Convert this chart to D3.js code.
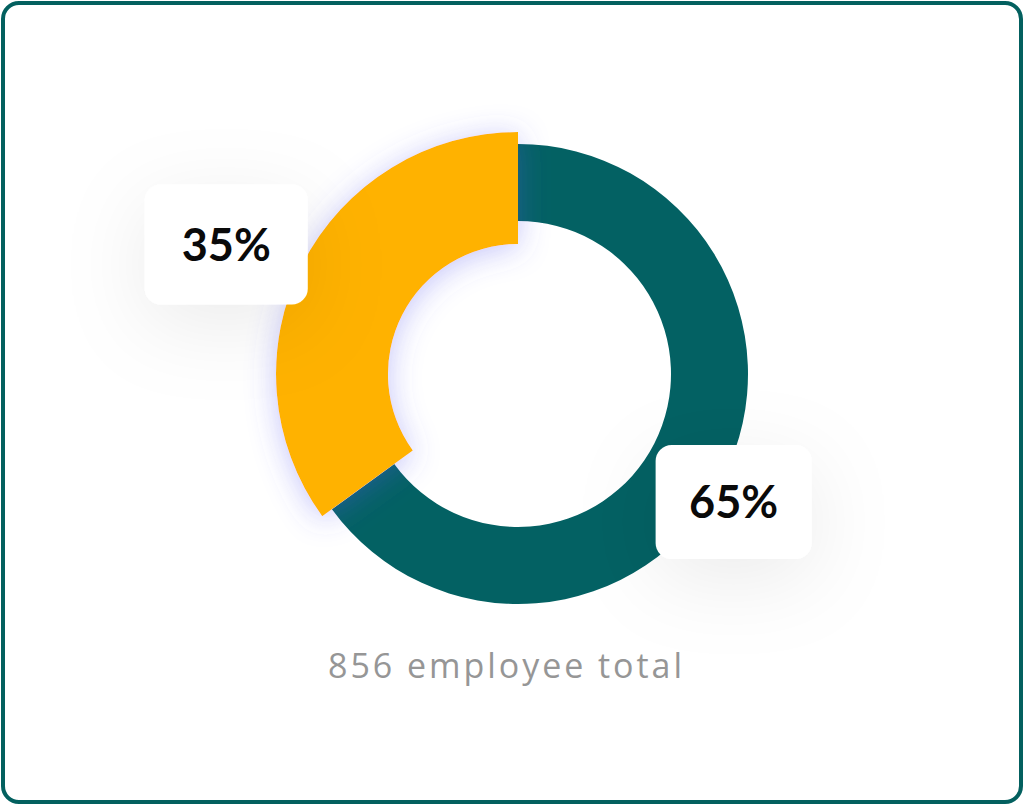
<!DOCTYPE html>
<html>
<head>
<meta charset="utf-8">
<script src="https://cdn.jsdelivr.net/npm/d3@7"></script>
<style>
  html, body { margin: 0; padding: 0; background: #ffffff; }
  svg { display: block; }
</style>
</head>
<body>
<svg id="chart" width="1024" height="805"></svg>
<script>
// ---- data ----
const categories = ["Group A", "Group B"];
const values = [65, 35];
const labels = ["65%", "35%"];
const totalLabel = "856 employee total";

// ---- style ----
const colors = ["#036163", "#FFB200"];
const innerRadii = [153, 130];
const outerRadii = [230, 242];
const labelOffsets = [[45, 41], [-126, -45]];
const boxSizes = [[156, 114], [163, 120]];

const W = 1024, H = 805;
const cx = 518, cy = 374;

const svg = d3.select("#chart");
const defs = svg.append("defs");

const f1 = defs.append("filter").attr("id", "glow")
  .attr("x", "-50%").attr("y", "-50%").attr("width", "200%").attr("height", "200%");
f1.append("feDropShadow").attr("dx", 0).attr("dy", 4).attr("stdDeviation", 15)
  .attr("flood-color", "#5b5bf0").attr("flood-opacity", 0.35);

const f2 = defs.append("filter").attr("id", "boxShadow")
  .attr("x", "-100%").attr("y", "-100%").attr("width", "300%").attr("height", "300%");
f2.append("feDropShadow").attr("dx", 0).attr("dy", 20).attr("stdDeviation", 42)
  .attr("flood-color", "#000").attr("flood-opacity", 0.08);

// border
svg.append("rect")
  .attr("x", 3).attr("y", 3).attr("width", W - 6).attr("height", H - 6)
  .attr("rx", 16).attr("ry", 16)
  .attr("fill", "#ffffff").attr("stroke", "#03605f").attr("stroke-width", 4);

const pie = d3.pie().sort(null).value(d => d)(values);
const g = svg.append("g").attr("transform", `translate(${cx},${cy})`);

const arcFor = i => d3.arc().innerRadius(innerRadii[i]).outerRadius(outerRadii[i]);

g.selectAll("path.slice")
  .data(pie)
  .join("path")
  .attr("class", "slice")
  .attr("d", (d, i) => arcFor(i)(d))
  .attr("fill", (d, i) => colors[i])
  .attr("filter", (d, i) => i === 1 ? "url(#glow)" : null);

const lab = g.selectAll("g.lab")
  .data(pie)
  .join("g")
  .attr("class", "lab")
  .attr("transform", (d, i) => {
    const c = arcFor(i).centroid(d);
    return `translate(${c[0] + labelOffsets[i][0]},${c[1] + labelOffsets[i][1]})`;
  });

lab.append("rect")
  .attr("x", (d, i) => -boxSizes[i][0] / 2)
  .attr("y", (d, i) => -boxSizes[i][1] / 2)
  .attr("width", (d, i) => boxSizes[i][0])
  .attr("height", (d, i) => boxSizes[i][1])
  .attr("rx", 16).attr("ry", 16)
  .attr("fill", "#ffffff")
  .attr("filter", "url(#boxShadow)");

lab.append("text")
  .attr("text-anchor", "middle")
  .attr("dy", "0.36em")
  .attr("font-family", "Lato, 'Open Sans', sans-serif")
  .attr("font-weight", 700)
  .attr("font-size", 45)
  .attr("fill", "#0a0a0a")
  .text((d, i) => labels[i]);

svg.append("text")
  .attr("x", 505).attr("y", 678)
  .attr("text-anchor", "middle")
  .attr("font-family", "'Open Sans', sans-serif")
  .attr("font-weight", 400)
  .attr("font-size", 34)
  .attr("fill", "#969696")
  .attr("textLength", 354)
  .attr("lengthAdjust", "spacing")
  .text(totalLabel);
</script>
</body>
</html>
